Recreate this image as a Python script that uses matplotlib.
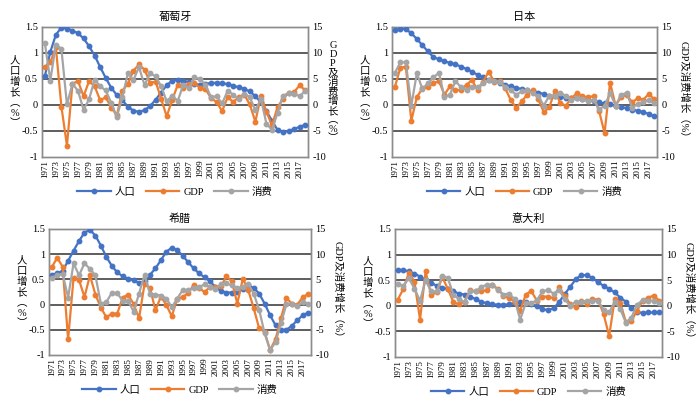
import matplotlib
matplotlib.use("Agg")
import matplotlib.pyplot as plt
from matplotlib.lines import Line2D

plt.rcParams['font.family'] = ['Liberation Serif', 'Noto Sans CJK SC']
plt.rcParams['axes.unicode_minus'] = False

years = list(range(1971, 2019))
year_labels = [str(y) if (y - 1971) % 2 == 0 else "" for y in years]

titles = ["葡萄牙", "日本", "希腊", "意大利"]
series_names = ["人口", "GDP", "消费"]

# Portugal
pt_pop = [0.55, 1.02, 1.35, 1.49, 1.47, 1.43, 1.38, 1.28, 1.13, 0.95,
          0.73, 0.52, 0.33, 0.19, 0.09, -0.03, -0.11, -0.13, -0.10, -0.02,
          0.10, 0.24, 0.38, 0.47, 0.48, 0.47, 0.44, 0.40, 0.39, 0.41,
          0.42, 0.43, 0.42, 0.40, 0.37, 0.34, 0.31, 0.26, 0.17, 0.05,
          -0.12, -0.30, -0.48, -0.52, -0.50, -0.46, -0.42, -0.38]
pt_gdp = [7.3, 8.2, 11.1, -0.3, -7.8, 4.1, 4.6, 1.7, 4.6, 3.6,
          0.9, 1.5, -0.5, -2.0, 2.7, 4.1, 6.6, 7.8, 6.8, 4.3,
          4.5, 1.2, -2.2, 1.0, 3.9, 3.3, 4.1, 4.2, 3.3, 3.1,
          1.3, 0.6, -1.2, 1.5, 0.6, 1.5, 2.0, 0.1, -3.2, 1.7,
          -1.3, -3.9, -0.4, 1.2, 2.3, 2.5, 3.8, 2.8]
pt_con = [12.0, 4.7, 11.6, 10.8, 0.1, 4.1, 2.7, -0.9, 1.1, 4.9,
          3.6, 2.8, 0.4, -2.3, 1.5, 6.1, 4.8, 7.3, 3.8, 6.1,
          5.5, 3.6, 0.7, 1.8, 0.8, 3.9, 3.2, 5.3, 5.0, 3.9,
          1.5, 1.7, 0.3, 2.7, 2.0, 1.1, 2.2, 1.5, -1.0, 1.2,
          -3.6, -4.8, -1.5, 1.8, 2.3, 2.2, 1.7, 2.7]

# Japan
jp_pop = [1.44, 1.46, 1.46, 1.38, 1.27, 1.15, 1.03, 0.92, 0.88, 0.84,
          0.81, 0.78, 0.74, 0.69, 0.64, 0.58, 0.53, 0.49, 0.46, 0.43,
          0.39, 0.36, 0.33, 0.31, 0.28, 0.26, 0.24, 0.21, 0.18, 0.17,
          0.15, 0.14, 0.13, 0.13, 0.11, 0.10, 0.08, 0.05, 0.03, 0.01,
          -0.02, -0.04, -0.06, -0.09, -0.11, -0.14, -0.17, -0.22]
jp_gdp = [3.4, 7.1, 7.4, -3.0, 1.5, 3.2, 3.4, 4.2, 4.6, 2.0,
          3.6, 2.8, 2.9, 3.9, 4.8, 2.8, 4.5, 6.4, 4.5, 4.7,
          3.2, 1.0, -0.6, 0.7, 2.0, 2.9, 1.1, -1.4, -0.4, 2.7,
          0.3, -0.1, 1.3, 2.3, 1.7, 1.5, 1.7, -1.1, -5.4, 4.3,
          -0.1, 1.5, 2.0, 0.5, 1.3, 1.0, 2.1, 1.1]
jp_con = [6.1, 8.2, 8.2, -0.1, 6.1, 3.1, 4.2, 5.3, 6.2, 1.5,
          2.0, 4.6, 3.4, 2.9, 3.5, 3.4, 4.2, 4.8, 4.6, 4.5,
          3.5, 2.8, 2.0, 2.6, 2.8, 2.3, 1.7, -0.1, 1.8, 1.8,
          2.4, 1.7, 1.0, 1.3, 1.2, 0.8, 1.0, -0.8, -0.2, 2.3,
          -0.1, 2.0, 2.3, -0.5, 0.2, 0.5, 1.0, 0.3]

# Greece
gr_pop = [0.59, 0.62, 0.67, 0.87, 1.07, 1.26, 1.43, 1.48, 1.37, 1.17,
          0.95, 0.77, 0.64, 0.56, 0.51, 0.48, 0.43, 0.46, 0.59, 0.72,
          0.88, 1.05, 1.13, 1.08, 0.97, 0.84, 0.72, 0.62, 0.54, 0.46,
          0.35, 0.27, 0.24, 0.24, 0.25, 0.31, 0.38, 0.33, 0.22, 0.02,
          -0.21, -0.41, -0.50, -0.50, -0.42, -0.31, -0.21, -0.16]
gr_gdp = [7.4, 9.3, 7.5, -6.9, 5.3, 4.9, 1.5, 5.8, 2.0, -0.6,
          -2.5, -1.8, -1.8, 1.4, 2.0, 0.1, -2.7, 4.1, 3.3, -1.1,
          1.6, -0.1, -2.3, 1.2, 1.5, 2.3, 3.9, 3.3, 2.5, 3.5,
          3.5, 3.6, 5.6, 4.6, 0.2, 5.1, 2.9, -0.7, -4.7, -5.4,
          -9.0, -6.9, -2.7, 1.3, 0.2, 0.0, 1.5, 2.1]
gr_con = [5.3, 5.8, 6.1, 1.4, 8.2, 5.8, 8.2, 7.1, 5.8, 0.2,
          0.5, 2.3, 2.3, 0.7, 0.8, -1.4, 2.2, 5.9, 2.2, 2.0,
          1.8, 1.2, -0.5, 1.2, 2.9, 2.9, 3.3, 3.5, 4.0, 3.5,
          3.1, 4.1, 4.2, 3.8, 3.3, 3.5, 4.1, 2.2, -1.0, -5.7,
          -9.0, -7.5, -3.7, 0.1, 0.2, -0.3, 0.5, 0.2]

# Italy
it_pop = [0.70, 0.70, 0.67, 0.63, 0.57, 0.50, 0.45, 0.39, 0.35, 0.33,
          0.28, 0.24, 0.22, 0.18, 0.13, 0.08, 0.05, 0.03, 0.02, 0.02,
          0.03, 0.05, 0.07, 0.07, 0.03, 0.00, -0.07, -0.08, -0.05, 0.07,
          0.23, 0.37, 0.52, 0.60, 0.60, 0.54, 0.46, 0.39, 0.33, 0.26,
          0.16, 0.08, -0.05, -0.12, -0.14, -0.13, -0.13, -0.13]
it_gdp = [1.2, 3.3, 6.5, 4.7, -2.7, 6.7, 2.2, 2.6, 5.6, 3.3,
          0.7, 0.3, 0.8, 3.1, 2.8, 2.8, 3.1, 4.1, 3.3, 2.0,
          1.5, 0.8, -1.0, 2.2, 2.9, 1.0, 1.8, 1.8, 1.5, 3.7,
          2.0, 0.3, -0.3, 1.0, 0.3, 1.3, 1.2, -1.6, -5.9, 1.3,
          0.5, -3.1, -2.9, -1.0, 1.0, 1.6, 2.0, 1.0]
it_con = [4.2, 3.9, 5.4, 3.3, 1.0, 5.0, 2.8, 2.8, 5.9, 5.4,
          2.2, 1.3, 0.7, 2.8, 2.8, 3.7, 4.1, 4.1, 3.1, 2.2,
          2.4, 1.3, -2.7, 0.5, 0.5, 1.1, 2.8, 3.1, 2.4, 3.1,
          1.3, 0.0, 0.8, 0.8, 1.0, 1.0, 1.0, -0.8, -1.3, 0.8,
          -0.6, -3.3, -2.3, 0.2, 1.1, 1.0, 1.0, 0.5]

panels = [
    (titles[0], pt_pop, pt_gdp, pt_con, [42, 27, 308, 157], True),
    (titles[1], jp_pop, jp_gdp, jp_con, [392, 27, 657, 157], False),
    (titles[2], gr_pop, gr_gdp, gr_con, [49, 229, 311, 355], False),
    (titles[3], it_pop, it_gdp, it_con, [395, 229, 662, 357], False),
]

C_BLUE = "#4472C4"
C_ORANGE = "#ED7D31"
C_GRAY = "#A5A5A5"

W, H = 700, 408
fig = plt.figure(figsize=(7.0, 4.08), dpi=100)
FS = 7.5

x = list(range(len(years)))
for title, pop, gdp, con, (x0, y0, x1, y1), stacked_right in panels:
    ax = fig.add_axes([x0 / W, 1 - y1 / H, (x1 - x0) / W, (y1 - y0) / H])
    ax2 = ax.twinx()
    ax.set_zorder(ax2.get_zorder() - 1)
    ax.patch.set_visible(True)
    ax2.patch.set_visible(False)

    ax.set_ylim(-1, 1.5)
    ax.set_yticks([-1, -0.5, 0, 0.5, 1, 1.5])
    ax.set_yticklabels(["-1", "-0.5", "0", "0.5", "1", "1.5"])
    ax2.set_ylim(-10, 15)
    ax2.set_yticks([-10, -5, 0, 5, 10, 15])
    ax.set_xlim(-0.5, len(years) - 0.5)
    ax.set_xticks(x)
    ax.set_xticklabels(year_labels, rotation=90, fontsize=6.5)
    for a in (ax, ax2):
        a.tick_params(axis='both', length=0, labelsize=FS, pad=3)
        for s in a.spines.values():
            s.set_color("#8c8c8c")
            s.set_linewidth(1.0)
    ax.tick_params(axis='x', labelsize=6.5, pad=2)
    for yv in [-0.5, 0, 0.5, 1]:
        ax.axhline(yv, color="#505050", lw=1.3, zorder=0.5)

    l1, = ax2.plot(x, [v * 10 for v in pop], color=C_BLUE, lw=1.6, marker='o', ms=3.2, zorder=3)
    l2, = ax2.plot(x, gdp, color=C_ORANGE, lw=1.6, marker='o', ms=3.2, zorder=4)
    l3, = ax2.plot(x, con, color=C_GRAY, lw=1.6, marker='o', ms=3.2, zorder=5)

    ax.set_title(title, fontsize=FS + 0.5, pad=5)

    w_ax = x1 - x0
    h_ax = y1 - y0
    ax.text((x0 - 27 - x0) / w_ax, 0.5, "人\n口\n增\n长\n︵\n%\n︶", transform=ax.transAxes,
            ha='center', va='center', fontsize=FS, linespacing=1.15)
    if stacked_right:
        ax.text(1 + 25 / w_ax, 0.5, "G\nD\nP\n及\n消\n费\n增\n长\n︵\n%\n︶",
                transform=ax.transAxes, ha='center', va='center', fontsize=FS, linespacing=0.98)
    else:
        ax.text(1 + 27 / w_ax, 0.5, "GDP及消费增长（%）", transform=ax.transAxes,
                ha='center', va='center', fontsize=FS, rotation=-90)

    ax.legend([l1, l2, l3], series_names, loc='center', ncol=3, frameon=False,
              bbox_to_anchor=(0.5, -35 / h_ax), bbox_transform=ax.transAxes,
              fontsize=FS, handlelength=3.2, columnspacing=1.0, handletextpad=0.4)

fig.savefig("out.png", dpi=100)
